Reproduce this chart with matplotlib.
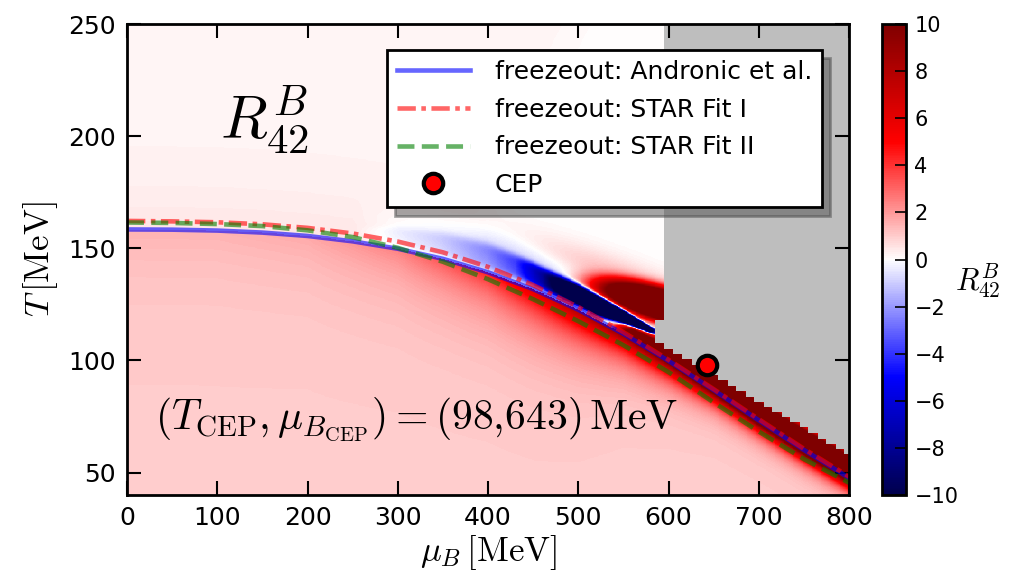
import numpy as np
import matplotlib.pyplot as plt

plt.rcParams['mathtext.fontset'] = 'cm'
plt.rcParams['font.family'] = ['DejaVu Sans']

# freezeout curves, T [MeV] at mu_B [MeV]
mu_fo = np.array([0, 50, 100, 150, 200, 250, 300, 350, 400, 450, 500, 550, 600, 650, 700, 750, 800])
T_andronic = np.array([158.4, 158.3, 157.9, 157.0, 155.5, 153.1, 149.8, 145.3, 139.3, 131.8,
                       122.6, 111.9, 99.8, 86.8, 73.3, 60.1, 47.6])
T_star1 = np.array([162.2, 162.0, 161.6, 160.7, 159.1, 156.6, 153.0, 148.2, 141.7, 133.6,
                    123.8, 112.6, 100.3, 87.2, 73.8, 60.6, 48.2])
T_star2 = np.array([161.5, 161.3, 160.8, 159.9, 158.0, 155.0, 150.2, 144.0, 136.2, 127.3,
                    117.5, 106.8, 94.8, 81.3, 68.3, 56.0, 45.5])

T_cep, mu_cep = 98, 643

below_mu = np.array([0, 100, 200, 300, 400, 450, 500, 550, 600, 650, 700, 800])
below_peak = np.array([0.5, 0.5, 0.7, 1.5, 3.5, 5.5, 7.5, 9, 11, 13, 15, 16])
below_width = np.array([20, 20, 18, 16, 14, 13, 11, 8, 6, 4.5, 4, 3.5])
pink_level = 1.0

blue_mu = np.array([250, 300, 350, 400, 430, 460, 490, 520, 560, 580, 592])
blue_amp = np.array([0, 0.5, 1.0, 1.8, 3.0, 7.0, 14, 20, 18, 14, 0])
blue_center = np.array([3, 5, 6, 7, 7, 6.5, 6.5, 6.5, 8, 9, 10])
blue_half = np.array([3, 5, 6, 6, 5.5, 5, 4.8, 4.5, 2.5, 1.5, 1])
blue_halo = np.array([0, 0.3, 0.5, 0.8, 1.0, 1.1, 1.1, 1.0, 0.4, 0, 0])

shoulder_mu = np.array([530, 560, 600, 800])
shoulder_amp = np.array([0, 14, 16, 16])
shoulder_top = np.array([1, 6, 8, 12])

# no data (grey) above this staircase, per 10 MeV column
gray_mu = np.array([590, 650, 700, 750, 800])
gray_T = np.array([107.5, 93.5, 81.5, 70, 58])

mu = np.arange(0, 801, 1.0)
T = np.arange(40, 250.01, 0.25)
M, TT = np.meshgrid(mu, T)
d = TT - np.interp(M, mu_fo, T_andronic)

peak = np.interp(M, below_mu, below_peak)
wid = np.interp(M, below_mu, below_width)
z_below = pink_level + peak * np.exp(np.minimum(d, 0) / wid)

edge = 380 + (TT - 150) * 1.3
z_top = (0.18 + 0.35 * np.exp(-np.maximum(d, 0) / 20)) / (1 + np.exp(-(edge - M) / 15))

bc = np.interp(M, blue_mu, blue_center)
bh = np.interp(M, blue_mu, blue_half)
z_blue = -np.interp(M, blue_mu, blue_amp, right=0) * np.exp(-((d - bc) / bh) ** 4)
z_blue -= np.interp(M, blue_mu, blue_halo, right=0) * np.exp(-((d - bc - 5) / 8) ** 2)

st = np.interp(M, shoulder_mu, shoulder_top)
z_sh = np.interp(M, shoulder_mu, shoulder_amp, left=0) * np.exp(-(np.maximum(d, 0) / st) ** 4)

above_band = 1 / (1 + np.exp(-(d - bc - bh) / 0.8))
lobe_T = 126 + (580 - M) * 0.1
r = ((M - 590) / 75) ** 2 + ((TT - lobe_T) / 8) ** 2
z_lobe = 16 * np.exp(-r ** 1.6)
halo_T = 134 + (560 - M) * 0.15
z_lobe += 1.5 * np.exp(-(((M - 560) / 110) ** 2 + ((TT - halo_T) / 9) ** 2))
z_lobe *= above_band

Z = np.where(d < 0, z_below, z_top + z_blue + z_sh + z_lobe)

col = np.round(M / 10) * 10
Tb = np.interp(col, gray_mu, gray_T)
gray = ((col >= 600) & (TT > Tb)) | ((col == 590) & (TT > Tb) & (TT < 118))
Z = np.ma.masked_where(gray, Z)

fig = plt.figure(figsize=(10.1, 5.85), dpi=100)
ax = fig.add_axes([127 / 1010, 90 / 585, 722 / 1010, 471 / 585])
cax = fig.add_axes([882 / 1010, 90 / 585, 24 / 1010, 471 / 585])

cmap = plt.get_cmap('seismic').copy()
cmap.set_bad('#bebebe')
im = ax.imshow(Z, origin='lower', aspect='auto', cmap=cmap, vmin=-10, vmax=10,
               extent=[-0.5, 800.5, 39.875, 250.125], interpolation='nearest')

ax.plot(mu_fo, T_andronic, '-', color='b', alpha=0.6, lw=3.3, label='freezeout: Andronic et al.')
ax.plot(mu_fo, T_star1, color='r', alpha=0.6, lw=3.3, ls=(0, (4, 1.2, 1, 1.2)),
        label='freezeout: STAR Fit I')
ax.plot(mu_fo, T_star2, '--', color='g', alpha=0.6, lw=3.3, label='freezeout: STAR Fit II')
ax.plot([mu_cep], [T_cep], 'o', color='r', mec='k', mew=3, ms=14, label='CEP')

ax.set_xlim(0, 800)
ax.set_ylim(40, 250)
ax.set_xticks(np.arange(0, 801, 100))
ax.set_yticks([50, 100, 150, 200, 250])
ax.tick_params(direction='in', top=True, right=True, length=10, width=1.5,
               labelsize=18, pad=8)
for s in ax.spines.values():
    s.set_linewidth(2)
ax.set_xlabel(r'$\mu_B\,[\mathrm{MeV}]$', fontsize=25, labelpad=2)
ax.set_ylabel(r'$T\,[\mathrm{MeV}]$', fontsize=25, labelpad=6)

ax.text(0.191, 0.796, r'$R^B_{42}$', transform=ax.transAxes, fontsize=44,
        ha='center', va='center')
ax.text(0.039, 0.159, r'$(T_{\rm CEP},\mu_{B_{\rm CEP}}) = (98{,}643)\,\mathrm{MeV}$',
        transform=ax.transAxes, fontsize=30, ha='left', va='center')

leg = ax.legend(loc='upper right', bbox_to_anchor=(0.9626, 0.9448), borderaxespad=0,
                fontsize=18, handlelength=2.9, handletextpad=1.0, fancybox=False,
                framealpha=1, edgecolor='k', numpoints=1, labelspacing=0.55,
                shadow={'ox': 6, 'oy': -6, 'color': '0.3', 'alpha': 0.5})
leg.get_frame().set_linewidth(2)

cb = fig.colorbar(im, cax=cax, ticks=np.arange(-10, 11, 2))
cb.outline.set_linewidth(2)
cax.tick_params(direction='in', length=8, width=1.2, labelsize=15, pad=6)
cax.text(4.0, 0.456, r'$R^B_{42}$', transform=cax.transAxes, fontsize=22,
         ha='center', va='center')

fig.savefig('out.png', dpi=100)
